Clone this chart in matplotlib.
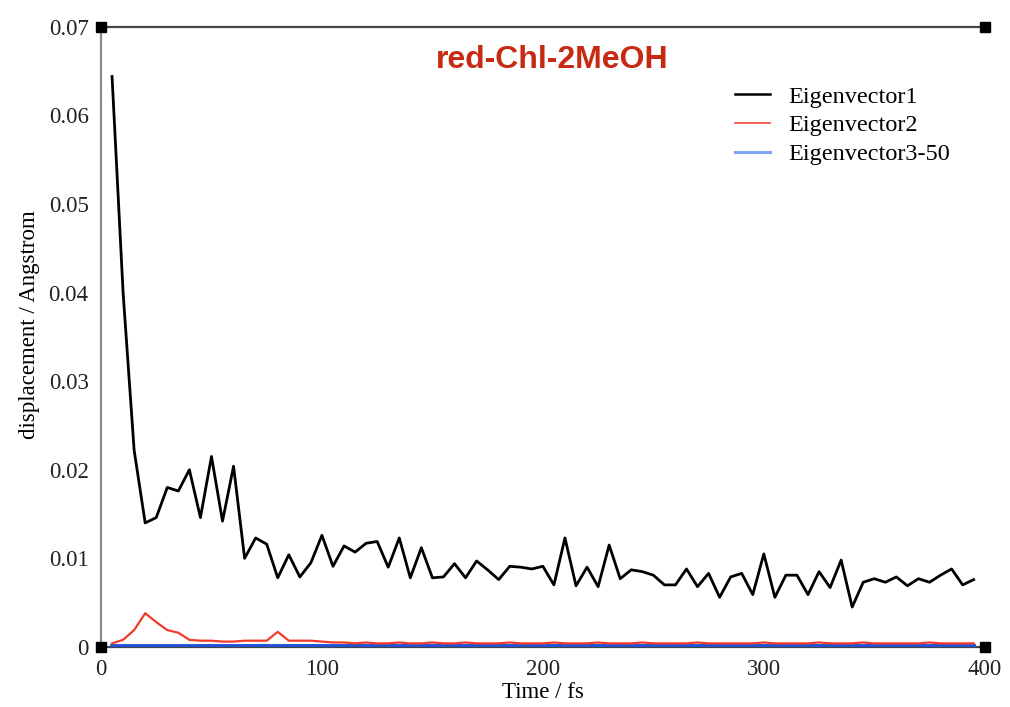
import matplotlib
matplotlib.use("Agg")
import matplotlib.pyplot as plt

# ---- data ----
time_fs = list(range(5, 400, 5))

eigvec1 = [0.0644, 0.0400, 0.0222, 0.0140, 0.0146, 0.0180, 0.0176, 0.0200, 0.0146, 0.0215,
           0.0142, 0.0204, 0.0100, 0.0123, 0.0116, 0.0078, 0.0104, 0.0079, 0.0095, 0.0126,
           0.0091, 0.0114, 0.0107, 0.0117, 0.0119, 0.0090, 0.0123, 0.0078, 0.0112, 0.0078,
           0.0079, 0.0094, 0.0078, 0.0097, 0.0087, 0.0076, 0.0091, 0.0090, 0.0088, 0.0091,
           0.0070, 0.0123, 0.0069, 0.0090, 0.0068, 0.0115, 0.0077, 0.0087, 0.0085, 0.0081,
           0.0070, 0.0070, 0.0088, 0.0068, 0.0083, 0.0056, 0.0079, 0.0083, 0.0059, 0.0105,
           0.0056, 0.0081, 0.0081, 0.0059, 0.0085, 0.0067, 0.0098, 0.0045, 0.0073, 0.0077,
           0.0073, 0.0079, 0.0069, 0.0077, 0.0073, 0.0081, 0.0088, 0.0070, 0.0076]

eigvec2 = [0.0004, 0.0008, 0.0019, 0.0038, 0.0028, 0.0019, 0.0016, 0.0008, 0.0007, 0.0007,
           0.0006, 0.0006, 0.0007, 0.0007, 0.0007, 0.0017, 0.0007, 0.0007, 0.0007, 0.0006,
           0.0005, 0.0005, 0.0004, 0.0005, 0.0004, 0.0004, 0.0005, 0.0004, 0.0004, 0.0005,
           0.0004, 0.0004, 0.0005, 0.0004, 0.0004, 0.0004, 0.0005, 0.0004, 0.0004, 0.0004,
           0.0005, 0.0004, 0.0004, 0.0004, 0.0005, 0.0004, 0.0004, 0.0004, 0.0005, 0.0004,
           0.0004, 0.0004, 0.0004, 0.0005, 0.0004, 0.0004, 0.0004, 0.0004, 0.0004, 0.0005,
           0.0004, 0.0004, 0.0004, 0.0004, 0.0005, 0.0004, 0.0004, 0.0004, 0.0005, 0.0004,
           0.0004, 0.0004, 0.0004, 0.0004, 0.0005, 0.0004, 0.0004, 0.0004, 0.0004]

eigvec3_50 = [0.00015] * len(time_fs)

x_ticks = [0, 100, 200, 300, 400]
y_ticks = [0, 0.01, 0.02, 0.03, 0.04, 0.05, 0.06, 0.07]
y_tick_labels = ["0", "0.01", "0.02", "0.03", "0.04", "0.05", "0.06", "0.07"]

labels = ["Eigenvector1", "Eigenvector2", "Eigenvector3-50"]
title = "red-Chl-2MeOH"

# ---- figure ----
serif = ["Liberation Serif", "DejaVu Serif"]
plt.rcParams["font.family"] = serif

fig = plt.figure(figsize=(10.10, 7.07), dpi=100)
ax = fig.add_axes([0.1, 0.085, 0.875, 0.877])

ax.plot(time_fs, eigvec3_50, color="#2152d6", lw=2.8, label=labels[2], zorder=3)
ax.plot(time_fs, eigvec2, color="#f23a2a", lw=1.6, label=labels[1], zorder=4)
ax.plot(time_fs, eigvec1, color="black", lw=2.0, label=labels[0], zorder=5)

ax.set_xlim(0, 400)
ax.set_ylim(0, 0.07)
ax.set_xticks(x_ticks)
ax.set_xticklabels([str(v) for v in x_ticks])
ax.set_yticks(y_ticks)
ax.set_yticklabels(y_tick_labels)
ax.tick_params(axis="both", length=0, labelsize=16.5, colors="#222222")
ax.tick_params(axis="y", pad=9)
ax.tick_params(axis="x", pad=9)

ax.set_xlabel("Time / fs", fontsize=16.5, labelpad=1)
ax.set_ylabel("displacement / Angstrom", fontsize=16.5)
ax.yaxis.set_label_coords(-0.069, 0.52)

ax.spines["right"].set_visible(False)
ax.spines["left"].set_color("#8a8a8a")
ax.spines["left"].set_linewidth(1.6)
ax.spines["top"].set_color("#444444")
ax.spines["top"].set_linewidth(1.6)
ax.spines["bottom"].set_color("#444444")
ax.spines["bottom"].set_linewidth(1.6)

# corner squares
for cx, cy in [(0, 0), (0, 1), (1, 1), (1, 0)]:
    ax.plot([cx], [cy], marker="s", ms=7, color="black", transform=ax.transAxes,
            clip_on=False, zorder=10)

ax.text(0.511, 0.947, title, transform=ax.transAxes, ha="center", va="center",
        fontsize=23, fontweight="bold", color="#c62a12",
        family=["Liberation Sans", "DejaVu Sans"])

h, l = ax.get_legend_handles_labels()
order = [2, 1, 0]
leg = ax.legend([h[i] for i in order], [l[i] for i in order], loc="upper left",
                bbox_to_anchor=(0.7035, 0.925), frameon=False, fontsize=17.5,
                handlelength=1.45, handletextpad=0.75, labelspacing=0.28, borderpad=0)
leg_lines = leg.get_lines()
leg_lines[0].set_linewidth(1.8)
leg_lines[1].set_linewidth(1.3)
leg_lines[1].set_color("#f25545")
leg_lines[2].set_linewidth(2.2)
leg_lines[2].set_color("#7fa6f5")

fig.savefig("out.png", dpi=100)
